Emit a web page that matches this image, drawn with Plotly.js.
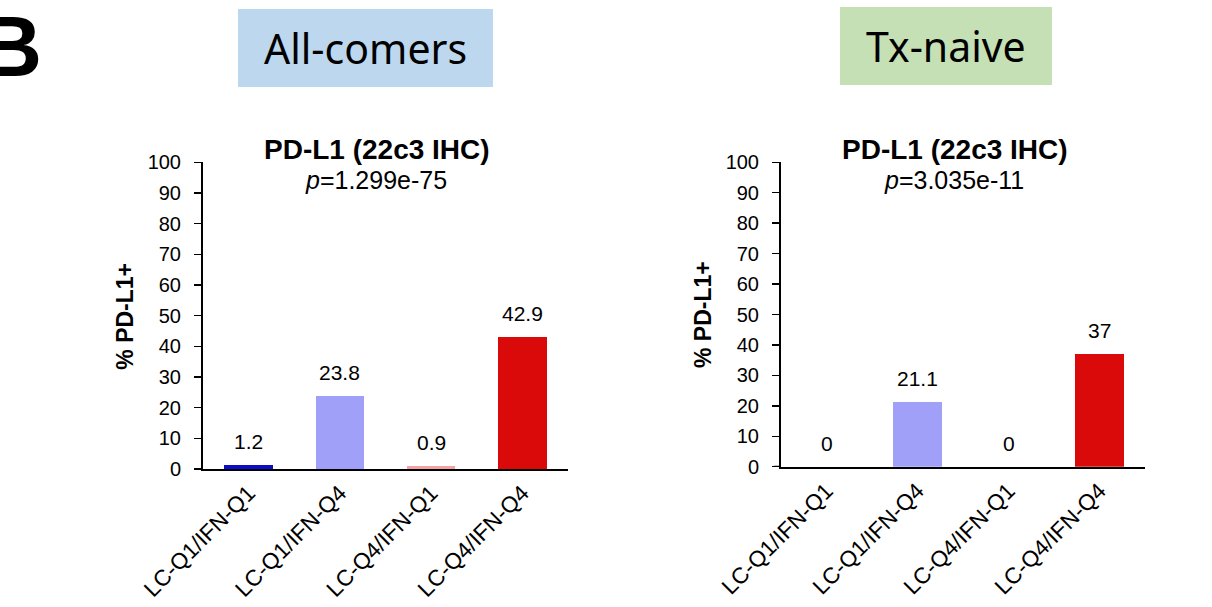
<!DOCTYPE html>
<html>
<head>
<meta charset="utf-8">
<script src="https://cdn.plot.ly/plotly-3.0.1.min.js"></script>
<style>html,body{margin:0;padding:0;background:#fff;}#chart{width:1212px;height:607px;}</style>
</head>
<body>
<div id="chart"></div>
<script>
// ---- data ----
const categories = ["LC-Q1/IFN-Q1", "LC-Q1/IFN-Q4", "LC-Q4/IFN-Q1", "LC-Q4/IFN-Q4"];
const allComersValues = [1.2, 23.8, 0.9, 42.9];
const txNaiveValues = [0, 21.1, 0, 37];
const barColors = ["#0c0cc8", "#a0a0f8", "#f4a2a2", "#da0a0a"];
const panelHeaders = ["All-comers", "Tx-naive"];
const chartTitle = "PD-L1 (22c3 IHC)";
const pValues = ["1.299e-75", "3.035e-11"];
const yTickVals = [0, 10, 20, 30, 40, 50, 60, 70, 80, 90, 100];
const yTitle = "% PD-L1+";

// ---- layout helpers (pixel -> paper) ----
const W = 1212, H = 607;
const px = x => x / W;
const py = y => 1 - y / H;
const FONT = "Arial, 'Liberation Sans', sans-serif";

function barTrace(vals, xa, ya) {
  return {
    type: "bar", x: categories, y: vals, xaxis: xa, yaxis: ya,
    marker: {color: barColors, line: {width: 0}}, width: 0.53,
    hoverinfo: "skip", showlegend: false
  };
}

const yBase = {
  range: [0, 100], tickvals: yTickVals, ticks: "outside", ticklen: 7, tickwidth: 1.5,
  tickcolor: "#000", showline: true, linecolor: "#000", linewidth: 2, showgrid: false,
  zeroline: false, ticklabelstandoff: 9,
  tickfont: {family: FONT, size: 20, color: "#000"}, fixedrange: true
};
const xBase = {
  type: "category", range: [-0.5, 3.5], showline: true, linecolor: "#000", linewidth: 2,
  ticks: "", showgrid: false, zeroline: false, tickangle: -45,
  tickfont: {family: FONT, size: 22.5, color: "#000"}, fixedrange: true
};

const panels = [
  {vals: allComersValues, xa: "x", ya: "y", xl: 203, xr: 568, y0: 469, y100: 162.3,
   titleX: 376.7, ytX: 125, ytY: 316.7, hdr: [238, 493, 9, 87], hdrColor: "#bdd7ee"},
  {vals: txNaiveValues, xa: "x2", ya: "y2", xl: 781, xr: 1145, y0: 466.7, y100: 162.3,
   titleX: 955, ytX: 703, ytY: 315, hdr: [840, 1052, 7, 85], hdrColor: "#c5e0b4"}
];

const data = panels.map(p => barTrace(p.vals, p.xa, p.ya));

const layout = {
  width: W, height: H, margin: {l: 0, r: 0, t: 0, b: 0},
  paper_bgcolor: "#fff", plot_bgcolor: "rgba(0,0,0,0)",
  showlegend: false, bargap: 0,
  font: {family: FONT, color: "#000"},
  xaxis: Object.assign({}, xBase, {domain: [px(panels[0].xl), px(panels[0].xr)], anchor: "y"}),
  yaxis: Object.assign({}, yBase, {domain: [py(panels[0].y0), py(panels[0].y100)], anchor: "x"}),
  xaxis2: Object.assign({}, xBase, {domain: [px(panels[1].xl), px(panels[1].xr)], anchor: "y2"}),
  yaxis2: Object.assign({}, yBase, {domain: [py(panels[1].y0), py(panels[1].y100)], anchor: "x2"}),
  shapes: [], annotations: []
};

panels.forEach((p, i) => {
  const sfx = i === 0 ? "" : "2";
  // header box
  layout.shapes.push({type: "rect", xref: "paper", yref: "paper",
    x0: px(p.hdr[0]), x1: px(p.hdr[1]), y0: py(p.hdr[3]), y1: py(p.hdr[2]),
    fillcolor: p.hdrColor, line: {width: 0}, layer: "below"});
  layout.annotations.push({xref: "paper", yref: "paper",
    x: px((p.hdr[0] + p.hdr[1]) / 2), y: py((p.hdr[2] + p.hdr[3]) / 2),
    text: panelHeaders[i], showarrow: false, xanchor: "center", yanchor: "middle",
    font: {family: "'Noto Sans', 'Open Sans', sans-serif", size: 41, color: "#000"}});
  // x-axis line extension under y ticks
  layout.shapes.push({type: "line", xref: "paper", yref: "y" + sfx,
    x0: px(p.xl - 7), x1: px(p.xl), y0: 0, y1: 0, line: {color: "#000", width: 2}});
  // chart title and p-value
  layout.annotations.push({xref: "paper", yref: "paper", x: px(p.titleX), y: py(149),
    text: "<b>" + chartTitle + "</b>", showarrow: false, xanchor: "center", yanchor: "middle",
    font: {family: FONT, size: 28, color: "#000"}});
  layout.annotations.push({xref: "paper", yref: "paper", x: px(p.titleX - 1), y: py(180),
    text: "<i>p</i>=" + pValues[i], showarrow: false, xanchor: "center", yanchor: "middle",
    font: {family: FONT, size: 25, color: "#000"}});
  // y-axis title
  layout.annotations.push({xref: "paper", yref: "paper", x: px(p.ytX), y: py(p.ytY),
    text: "<b>" + yTitle + "</b>", showarrow: false, textangle: -90,
    xanchor: "center", yanchor: "middle", font: {family: FONT, size: 23, color: "#000"}});
  // value labels
  p.vals.forEach((v, j) => {
    layout.annotations.push({xref: "x" + sfx, yref: "y" + sfx, x: categories[j], y: v,
      text: String(v), showarrow: false, xanchor: "center", yanchor: "bottom", yshift: 10,
      font: {family: FONT, size: 21, color: "#000"}});
  });
});

// panel letter
layout.annotations.push({xref: "paper", yref: "paper", x: px(44), y: py(46),
  text: "<b>B</b>", showarrow: false, xanchor: "right", yanchor: "middle",
  font: {family: FONT, size: 86, color: "#000"}});

Plotly.newPlot("chart", data, layout, {staticPlot: true, displayModeBar: false});
</script>
</body>
</html>
